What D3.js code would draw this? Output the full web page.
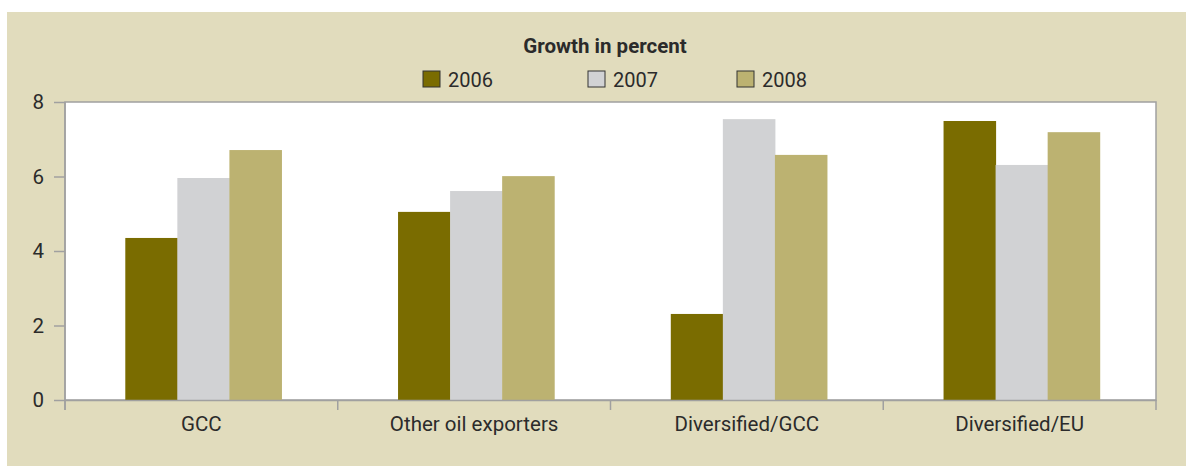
<!DOCTYPE html>
<html>
<head>
<meta charset="utf-8">
<script src="https://cdn.jsdelivr.net/npm/d3@7"></script>
<style>
  body { margin: 0; background: #ffffff; }
  text { font-family: "Roboto", "DejaVu Sans", sans-serif; fill: #2b2b2b; }
</style>
</head>
<body>
<div id="chart"></div>
<script>
// data
const categories = ["GCC", "Other oil exporters", "Diversified/GCC", "Diversified/EU"];
const years = ["2006", "2007", "2008"];
const values2006 = [4.35, 5.05, 2.31, 7.49];
const values2007 = [5.96, 5.61, 7.54, 6.31];
const values2008 = [6.71, 6.01, 6.58, 7.19];
const yTicks = [0, 2, 4, 6, 8];
const colors = ["#7a6c00", "#d1d2d4", "#bcb271"];

const W = 1186, H = 469;
const margin = { left: 65, right: 30, top: 102, bottom: 69 };

const svg = d3.select("#chart").append("svg")
  .attr("width", W)
  .attr("height", H);

// beige panel
svg.append("rect")
  .attr("x", 7).attr("y", 12)
  .attr("width", W - 7).attr("height", 454)
  .attr("fill", "#e1dcbd");

const x0 = d3.scaleBand()
  .domain(categories)
  .range([margin.left, W - margin.right])
  .paddingInner(0)
  .paddingOuter(0);

const x1 = d3.scaleBand()
  .domain(years)
  .range([2, x0.bandwidth() + 2])
  .paddingOuter(1.12);

const y = d3.scaleLinear()
  .domain([0, 8])
  .range([H - margin.bottom, margin.top]);

// plot area
svg.append("rect")
  .attr("x", margin.left).attr("y", margin.top)
  .attr("width", W - margin.left - margin.right)
  .attr("height", y(0) - margin.top)
  .attr("fill", "#ffffff")
  .attr("stroke", "#a0a0a0")
  .attr("stroke-width", 1.5);

const rows = categories.map((c, i) => ({
  cat: c,
  vals: [values2006[i], values2007[i], values2008[i]]
}));

const groups = svg.selectAll("g.grp")
  .data(rows)
  .join("g")
  .attr("class", "grp")
  .attr("transform", d => `translate(${x0(d.cat)},0)`);

groups.selectAll("rect")
  .data(d => d.vals.map((v, j) => ({ year: years[j], v: v, j: j })))
  .join("rect")
  .attr("x", d => x1(d.year))
  .attr("y", d => y(d.v))
  .attr("width", x1.bandwidth() + 0.5)
  .attr("height", d => y(0) - y(d.v))
  .attr("fill", d => colors[d.j]);

// y axis
const yAxis = svg.append("g")
  .attr("transform", `translate(${margin.left},0)`)
  .call(d3.axisLeft(y).tickValues(yTicks).tickSize(11).tickPadding(10));
yAxis.select(".domain").remove();
yAxis.selectAll("line").attr("stroke", "#a0a0a0").attr("stroke-width", 1.5);
yAxis.selectAll("text").style("font-size", "20.5px").attr("fill", "#2b2b2b");

// left axis line with small overhang below
svg.append("line")
  .attr("x1", margin.left).attr("x2", margin.left)
  .attr("y1", margin.top).attr("y2", y(0) + 10)
  .attr("stroke", "#a0a0a0").attr("stroke-width", 1.5);

// x axis: ticks at category boundaries
const xAxis = svg.append("g")
  .attr("transform", `translate(0,${y(0)})`)
  .call(d3.axisBottom(x0).tickSize(0).tickPadding(16));
xAxis.select(".domain").attr("stroke", "#a0a0a0").attr("stroke-width", 1.5);
xAxis.selectAll("text").style("font-size", "20.5px").attr("fill", "#2b2b2b");

const bounds = categories.map(c => x0(c)).concat([x0.range()[1]]);
svg.selectAll("line.bound")
  .data(bounds)
  .join("line")
  .attr("class", "bound")
  .attr("x1", d => d).attr("x2", d => d)
  .attr("y1", y(0)).attr("y2", y(0) + 10)
  .attr("stroke", "#a0a0a0").attr("stroke-width", 1.5);

// title
svg.append("text")
  .attr("x", 605).attr("y", 53)
  .attr("text-anchor", "middle")
  .style("font-size", "20.5px")
  .style("font-weight", "bold")
  .text("Growth in percent");

// legend
const legendX = [423, 588, 737];
const leg = svg.selectAll("g.leg")
  .data(years)
  .join("g")
  .attr("class", "leg")
  .attr("transform", (d, i) => `translate(${legendX[i]},71)`);
leg.append("rect")
  .attr("width", 17).attr("height", 16)
  .attr("fill", (d, i) => colors[i])
  .attr("stroke", "#333333").attr("stroke-width", 1);
leg.append("text")
  .attr("x", 25).attr("y", 16)
  .style("font-size", "20px")
  .text(d => d);
</script>
</body>
</html>
